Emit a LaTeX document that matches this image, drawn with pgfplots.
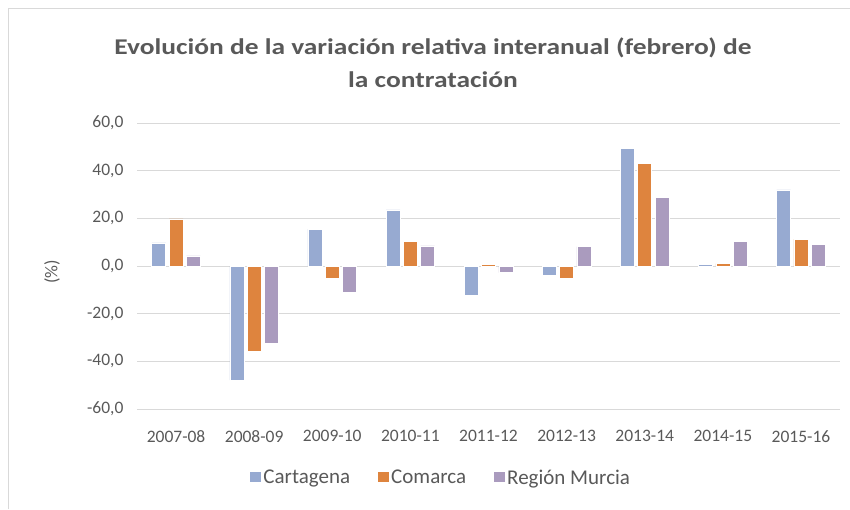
\documentclass[border=0pt]{standalone}
\usepackage{pgfplots}
\pgfplotsset{compat=1.18}
\usepackage{fontspec}
\setmainfont{Carlito}
\definecolor{cblue}{RGB}{151,170,209}
\definecolor{corange}{RGB}{222,132,62}
\definecolor{cpurple}{RGB}{170,155,190}
\definecolor{txt}{RGB}{89,89,89}
\definecolor{gridc}{RGB}{217,217,217}
\begin{document}
\begin{tikzpicture}[x=1pt,y=1pt]
\path[use as bounding box] (0pt,0pt) rectangle (850pt,509pt);
\draw[gridc, line width=1pt] (8.5pt,0pt) -- (8.5pt,500.5pt) -- (850pt,500.5pt);
\node[text=txt, font=\fontsize{22.5}{33}\selectfont\bfseries, align=center, xscale=1.22] at (433pt,446pt) {Evolución de la variación relativa interanual (febrero) de\\la contratación};
\begin{axis}[
  at={(137pt,100pt)}, anchor=south west, scale only axis,
  width=703pt, height=286pt,
  ymin=-60, ymax=60, ytick={-60,-40,...,60},
  xmin=-0.5, xmax=8.5,
  xtick={0,...,8},
  xticklabels={2007-08,2008-09,2009-10,2010-11,2011-12,2012-13,2013-14,2014-15,2015-16},
  ybar=3.3pt, bar width=14pt,
  axis line style={draw=none},
  tick style={draw=none},
  ymajorgrids, grid style={gridc, line width=1pt},
  major tick length=0pt,
  tick label style={text=txt, font=\fontsize{17.5}{20}\selectfont},
  /pgf/number format/fixed,
  /pgf/number format/fixed zerofill,
  /pgf/number format/precision=1,
  /pgf/number format/use comma,
  /pgf/number format/assume math mode=true,
  xticklabel style={yshift=-18pt},
  yticklabel style={xshift=-10pt},
  ylabel={(\%)}, ylabel style={text=txt, font=\fontsize{18}{20}\selectfont, at={(-0.121,0.479)}, anchor=center},
  legend columns=3,
  legend style={draw=none, at={(0.432,-0.241)}, anchor=center, font=\fontsize{21}{24}\selectfont, text=txt,
    /tikz/every even column/.append style={column sep=25pt}},
  legend image code/.code={\fill[#1] (0pt,-4.5pt) rectangle (11.5pt,7pt);},
]
\addplot[fill=cblue, draw=white, line width=0.6pt] coordinates {(0,9.7) (1,-47.9) (2,15.5) (3,23.5) (4,-12.1) (5,-3.8) (6,49.3) (7,0.6) (8,31.9)};
\addplot[fill=corange, draw=white, line width=0.6pt] coordinates {(0,19.8) (1,-35.6) (2,-5.2) (3,10.3) (4,0.8) (5,-5.2) (6,43.2) (7,1.0) (8,11.3)};
\addplot[fill=cpurple, draw=white, line width=0.6pt] coordinates {(0,4.2) (1,-32.4) (2,-10.9) (3,8.4) (4,-2.8) (5,8.1) (6,28.7) (7,10.3) (8,8.9)};
\legend{Cartagena, Comarca, Región Murcia}
\end{axis}
\end{tikzpicture}
\end{document}
